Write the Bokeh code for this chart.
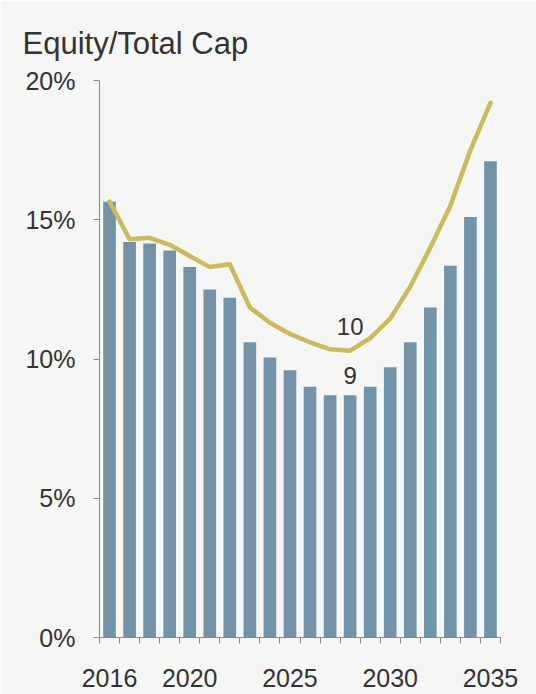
from bokeh.plotting import figure
from bokeh.models import Range1d, FixedTicker
from bokeh.core.properties import value
from bokeh.embed import file_html
from bokeh.resources import INLINE

# ---- data ----
years = [2016, 2017, 2018, 2019, 2020, 2021, 2022, 2023, 2024, 2025,
         2026, 2027, 2028, 2029, 2030, 2031, 2032, 2033, 2034, 2035]
bar_pct = [15.65, 14.2, 14.15, 13.9, 13.3, 12.5, 12.2, 10.6, 10.05, 9.6,
           9.0, 8.7, 8.7, 9.0, 9.7, 10.6, 11.85, 13.35, 15.1, 17.1]
line_pct = [15.65, 14.3, 14.35, 14.1, 13.7, 13.3, 13.4, 11.85, 11.3, 10.9,
            10.6, 10.35, 10.3, 10.75, 11.45, 12.6, 14.0, 15.5, 17.5, 19.2]
year_ticks = [2016, 2020, 2025, 2030, 2035]
y_ticks = [0, 5, 10, 15, 20]
y_tick_labels = ["0%", "5%", "10%", "15%", "20%"]
annot_x = [2028, 2028]
annot_y = [11.15, 9.4]
annot_text = ["10", "9"]
title_text = "Equity/Total Cap"

FONT = "Liberation Sans"
TXT = "#333333"
BG = "#f6f6f4"

p = figure(width=536, height=694, output_backend="svg", toolbar_location=None,
           x_range=Range1d(years[0] - 0.5, years[-1] + 0.5),
           y_range=Range1d(0, 20),
           min_border_left=99, min_border_right=36,
           min_border_top=80, min_border_bottom=57,
           background_fill_color=BG, border_fill_color=BG,
           outline_line_color=None)

p.title.text = title_text
p.title.text_font = FONT
p.title.text_font_size = "31px"
p.title.text_font_style = "normal"
p.title.text_color = TXT
p.title.align = "left"
p.title.offset = -77
p.title.standoff = 40

p.xgrid.visible = False
p.ygrid.visible = False

p.vbar(x=years, top=bar_pct, width=0.63, bottom=0,
       fill_color="#7393a9", line_color=None)
p.line(x=years, y=line_pct, line_color="#cdb95e", line_width=4.5,
       line_join="round", line_cap="round")
p.text(x=annot_x, y=annot_y, text=annot_text, text_font=value(FONT),
       text_font_size="24px", text_color=TXT,
       text_align="center", text_baseline="middle")

# x axis
xa = p.xaxis[0]
xa.ticker = FixedTicker(ticks=year_ticks,
                        minor_ticks=[y - 0.5 for y in years] + [years[-1] + 0.5])
xa.major_tick_line_color = None
xa.major_tick_out = 0
xa.major_tick_in = 0
xa.minor_tick_in = 0
xa.minor_tick_out = 6
xa.minor_tick_line_color = "#8a8a8a"
xa.axis_line_color = "#8a8a8a"
xa.major_label_text_font = FONT
xa.major_label_text_font_size = "25px"
xa.major_label_text_color = TXT
xa.major_label_standoff = 25

# y axis
ya = p.yaxis[0]
ya.ticker = FixedTicker(ticks=y_ticks)
ya.major_label_overrides = {t: l for t, l in zip(y_ticks, y_tick_labels)}
ya.minor_tick_line_color = None
ya.major_tick_in = 0
ya.major_tick_out = 6
ya.major_tick_line_color = "#8a8a8a"
ya.axis_line_color = "#8a8a8a"
ya.major_label_text_font = FONT
ya.major_label_text_font_size = "25px"
ya.major_label_text_color = TXT
ya.major_label_standoff = 18

open("out.html", "w").write(file_html(p, INLINE))
